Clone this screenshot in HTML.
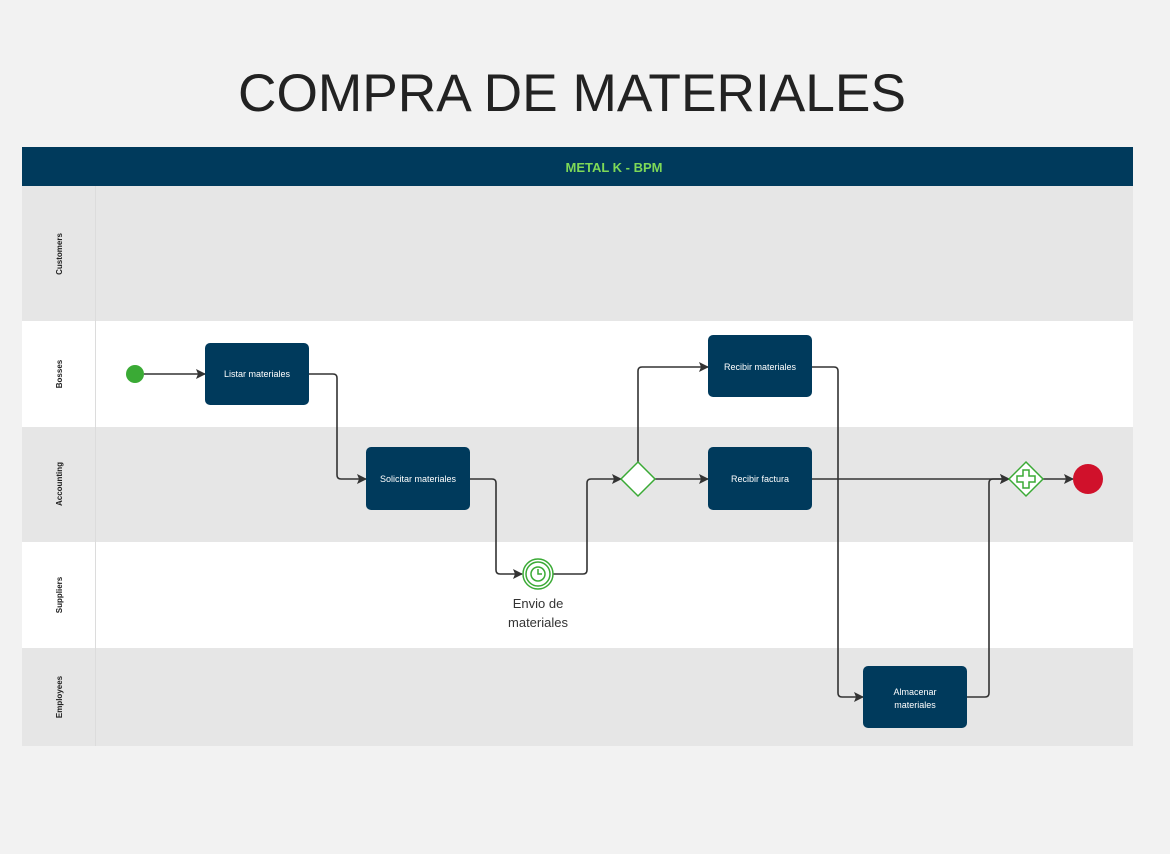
<!DOCTYPE html>
<html><head><meta charset="utf-8"><style>
html,body{margin:0;padding:0;background:#f2f2f2;}
svg{display:block;font-family:"Liberation Sans",sans-serif;}
</style></head><body>
<svg width="1170" height="854" viewBox="0 0 1170 854" xmlns="http://www.w3.org/2000/svg">
<defs>
<marker id="a" markerWidth="10" markerHeight="10" refX="9" refY="5" orient="auto" markerUnits="userSpaceOnUse">
<path d="M0,0 L10,5 L0,10 L2,5 Z" fill="#333"/></marker>
</defs>
<rect width="1170" height="854" fill="#f2f2f2"/>
<text x="572" y="111" text-anchor="middle" font-size="53" fill="#222" textLength="668" lengthAdjust="spacingAndGlyphs">COMPRA DE MATERIALES</text>
<rect x="22" y="147" width="1111" height="39" fill="#003a5c"/>
<text x="614" y="172" text-anchor="middle" font-size="13" font-weight="bold" fill="#7ed957">METAL K - BPM</text>
<rect x="22" y="186" width="1111" height="135" fill="#e6e6e6"/>
<rect x="22" y="321" width="1111" height="106" fill="#ffffff"/>
<rect x="22" y="427" width="1111" height="115" fill="#e6e6e6"/>
<rect x="22" y="542" width="1111" height="106" fill="#ffffff"/>
<rect x="22" y="648" width="1111" height="98" fill="#e6e6e6"/>
<line x1="95.5" y1="186" x2="95.5" y2="746" stroke="#dcdcdc" stroke-width="1"/>
<g font-size="8" font-weight="bold" fill="#222" text-anchor="middle">
<text transform="translate(62,254) rotate(-90)">Customers</text>
<text transform="translate(62,374) rotate(-90)">Bosses</text>
<text transform="translate(62,484) rotate(-90)">Accounting</text>
<text transform="translate(62,595) rotate(-90)">Suppliers</text>
<text transform="translate(62,697) rotate(-90)">Employees</text>
</g>
<g fill="none" stroke="#333" stroke-width="1.6" marker-end="url(#a)">
<path d="M144,374 H205"/>
<path d="M309,374 H333 Q337,374 337,378 V475 Q337,479 341,479 H366"/>
<path d="M470,479 H492 Q496,479 496,483 V570 Q496,574 500,574 H522"/>
<path d="M553,574 H583 Q587,574 587,570 V483 Q587,479 591,479 H621"/>
<path d="M638,462 V371 Q638,367 642,367 H708"/>
<path d="M655,479 H708"/>
<path d="M812,367 H834 Q838,367 838,371 V693 Q838,697 842,697 H863"/>
<path d="M812,479 H1009"/>
<path d="M967,697 H985 Q989,697 989,693 V483 Q989,479 993,479 H1009"/>
<path d="M1043,479 H1073"/>
</g>
<circle cx="135" cy="374" r="9" fill="#3aaa35"/>
<g fill="#003a5c">
<rect x="205" y="343" width="104" height="62" rx="5"/>
<rect x="366" y="447" width="104" height="63" rx="5"/>
<rect x="708" y="335" width="104" height="62" rx="5"/>
<rect x="708" y="447" width="104" height="63" rx="5"/>
<rect x="863" y="666" width="104" height="62" rx="5"/>
</g>
<g font-size="9" fill="#fff" text-anchor="middle">
<text x="257" y="377">Listar materiales</text>
<text x="418" y="482">Solicitar materiales</text>
<text x="760" y="370">Recibir materiales</text>
<text x="760" y="482">Recibir factura</text>
<text x="915" y="695">Almacenar</text>
<text x="915" y="708">materiales</text>
</g>
<circle cx="538" cy="574" r="15" fill="#fff" stroke="#3aaa35" stroke-width="1.5"/>
<circle cx="538" cy="574" r="12" fill="none" stroke="#3aaa35" stroke-width="1.5"/>
<circle cx="538" cy="574" r="7" fill="none" stroke="#3aaa35" stroke-width="1.5"/>
<path d="M538,569 V574 H542" fill="none" stroke="#3aaa35" stroke-width="1.5"/>
<text x="538" y="608" text-anchor="middle" font-size="13" fill="#333">Envio de</text>
<text x="538" y="627" text-anchor="middle" font-size="13" fill="#333">materiales</text>
<path d="M638,462 L655,479 L638,496 L621,479 Z" fill="#fff" stroke="#3aaa35" stroke-width="1.5"/>
<path d="M1026,462 L1043,479 L1026,496 L1009,479 Z" fill="#fff" stroke="#3aaa35" stroke-width="1.5"/>
<path d="M1023,470 H1029 V476 H1035 V482 H1029 V488 H1023 V482 H1017 V476 H1023 Z" fill="#fff" stroke="#3aaa35" stroke-width="1.5"/>
<circle cx="1088" cy="479" r="15" fill="#d0112b"/>
</svg>
</body></html>
